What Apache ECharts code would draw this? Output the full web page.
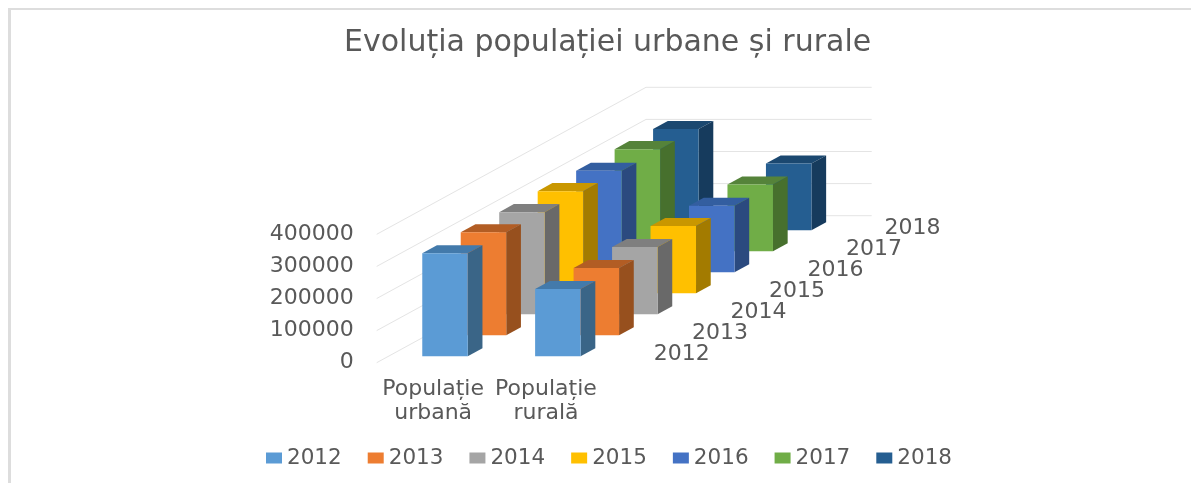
<!DOCTYPE html>
<html>
<head>
<meta charset="utf-8">
<style>
  html, body { margin: 0; padding: 0; background: #fff; }
  #chart { width: 1191px; height: 483px; }
</style>
<script src="https://cdn.jsdelivr.net/npm/echarts@6/dist/echarts.min.js"></script>
</head>
<body>
<div id="chart"></div>
<script>
var categories = ['Populație\nurbană', 'Populație\nrurală'];
var years = ['2012', '2013', '2014', '2015', '2016', '2017', '2018'];
var yTicks = [0, 100000, 200000, 300000, 400000];

var urban = [321000, 321000, 318000, 318000, 316000, 318000, 315000];
var rural = [209000, 209000, 209000, 209000, 207000, 208000, 208000];

var frontColors = ['#5B9BD5', '#ED7D31', '#A5A5A5', '#FFC000', '#4472C4', '#70AD47', '#255E91'];
var topColors = ['#437AAB', '#B25D24', '#7F7F7F', '#C99700', '#335EA0', '#55833A', '#1B4870'];
var sideColors = ['#3A6587', '#97501E', '#696969', '#A37B00', '#2B4A7F', '#47702D', '#163B5D'];

// oblique projection of the depth axis, in pixels
var depthX = 269.3, depthY = 147;
var slotX = depthX / years.length, slotY = depthY / years.length;
var barWidth = 45.5, barDepth = 0.382;

var textColor = '#595959';
var fontName = '"DejaVu Sans"';

function bar3d(k) {
    return function (params, api) {
        var base = api.coord([api.value(0), 0]);
        var top = api.coord([api.value(0), api.value(1)]);
        var off = k + 0.5 - barDepth / 2;
        var x0 = base[0] + off * slotX - barWidth / 2;
        var x1 = x0 + barWidth;
        var y0 = base[1] - off * slotY;
        var y1 = top[1] - off * slotY;
        var dx = barDepth * slotX, dy = barDepth * slotY;
        return {
            type: 'group',
            children: [
                {type: 'polygon', shape: {points: [[x0, y1], [x1, y1], [x1 + dx, y1 - dy], [x0 + dx, y1 - dy]]}, style: {fill: topColors[k]}},
                {type: 'polygon', shape: {points: [[x1, y0], [x1, y1], [x1 + dx, y1 - dy], [x1 + dx, y0 - dy]]}, style: {fill: sideColors[k]}},
                {type: 'polygon', shape: {points: [[x0, y0], [x1, y0], [x1, y1], [x0, y1]]}, style: {fill: frontColors[k]}}
            ]
        };
    };
}

function gridLines(params, api) {
    var left = params.coordSys.x, w = params.coordSys.width;
    var y = api.coord([0, api.value(1)])[1];
    return {
        type: 'polyline',
        shape: {points: [[left, y], [left + depthX, y - depthY], [left + depthX + w, y - depthY]]},
        style: {fill: 'none', stroke: '#E4E4E4', lineWidth: 1}
    };
}

function yearLabels(params, api) {
    var k = api.value(0);
    var rect = params.coordSys;
    var p = api.coord([0, 0]);
    return {
        type: 'text',
        style: {
            x: rect.x + rect.width + (k + 0.5) * slotX + 60,
            y: p[1] - (k + 0.5) * slotY + 2,
            text: years[k],
            fill: textColor,
            font: '22px ' + fontName,
            align: 'center',
            verticalAlign: 'middle'
        }
    };
}

var series = [{
    type: 'custom',
    name: 'grid',
    z: 1,
    silent: true,
    renderItem: gridLines,
    data: yTicks.map(function (v) { return [0, v]; })
}, {
    type: 'custom',
    name: 'years',
    z: 1,
    silent: true,
    renderItem: yearLabels,
    encode: {x: 1, y: 2},
    data: years.map(function (y, k) { return [k, 0, 0]; })
}];

years.forEach(function (year, k) {
    series.push({
        type: 'custom',
        name: year,
        z: 20 - k,
        renderItem: bar3d(k),
        itemStyle: {color: frontColors[k]},
        data: [[0, urban[k]], [1, rural[k]]]
    });
});

var chart = echarts.init(document.getElementById('chart'), null, {renderer: 'canvas'});

chart.setOption({
    animation: false,
    backgroundColor: '#fff',
    title: {
        text: 'Evoluția populației urbane și rurale',
        left: 344,
        top: 28,
        padding: 0,
        textStyle: {fontFamily: fontName, fontSize: 30, fontWeight: 'normal', color: textColor}
    },
    legend: {
        data: years,
        left: 266,
        top: 447,
        padding: 0,
        icon: 'rect',
        itemWidth: 16,
        itemHeight: 11,
        itemGap: 26,
        textStyle: {fontFamily: fontName, fontSize: 21.5, color: textColor}
    },
    grid: {left: 376.7, top: 234.3, width: 225.7, height: 128.4},
    xAxis: {
        type: 'category',
        data: categories,
        axisLine: {show: false},
        axisTick: {show: false},
        axisLabel: {fontFamily: fontName, fontSize: 22, lineHeight: 24, color: textColor, margin: 15, interval: 0}
    },
    yAxis: {
        type: 'value',
        min: 0,
        max: 400000,
        interval: 100000,
        axisLine: {show: false},
        axisTick: {show: false},
        splitLine: {show: false},
        axisLabel: {fontFamily: fontName, fontSize: 22, color: textColor, margin: 23, padding: [4, 0, 0, 0], formatter: function (v) { return String(v); }}
    },
    graphic: [
        {type: 'line', silent: true, shape: {x1: 9.5, y1: 8, x2: 9.5, y2: 483}, style: {stroke: '#DDDDDD', lineWidth: 3}},
        {type: 'line', silent: true, shape: {x1: 8, y1: 9, x2: 1191, y2: 9}, style: {stroke: '#DDDDDD', lineWidth: 2}}
    ],
    series: series
});
</script>
</body>
</html>
